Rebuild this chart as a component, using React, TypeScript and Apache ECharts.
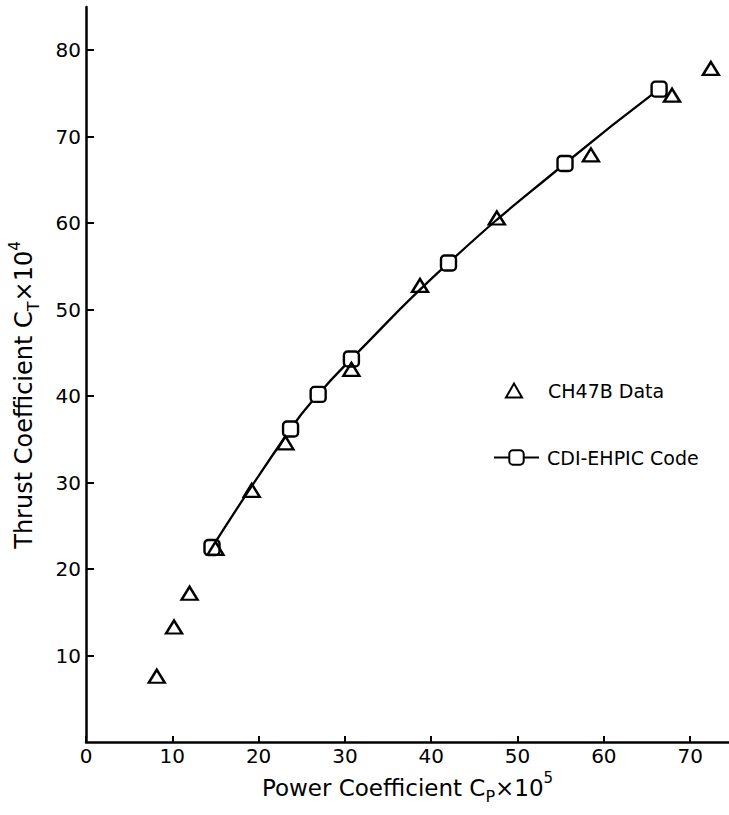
import React, { useEffect, useRef } from "react";
import * as echarts from "echarts";

// CH47B measured data (Cp x 10^5, Ct x 10^4)
const ch47bCp = [8.2, 10.2, 12.0, 15.0, 19.2, 23.1, 30.75, 38.7, 47.6, 58.5, 67.9, 72.4];
const ch47bCt = [7.6, 13.3, 17.2, 22.4, 29.1, 34.6, 43.1, 52.8, 60.6, 67.9, 74.8, 77.9];
// CDI-EHPIC code prediction
const codeCp = [14.6, 23.7, 26.9, 30.75, 42.0, 55.5, 66.4];
const codeCt = [22.5, 36.2, 40.2, 44.3, 55.4, 66.9, 75.5];
// tick labels
const xTicks = [0, 10, 20, 30, 40, 50, 60, 70];
const yTicks = [10, 20, 30, 40, 50, 60, 70, 80];

const FONT = "DejaVu Sans";

export default function App() {
  const ref = useRef<HTMLDivElement>(null);

  useEffect(() => {
    if (!ref.current) return;
    const chart = echarts.init(ref.current, null, { renderer: "svg" });
    const ch47b = ch47bCp.map((x, i) => [x, ch47bCt[i]]);
    const code = codeCp.map((x, i) => [x, codeCt[i]]);

    const axisCommon = {
      type: "value" as const,
      axisLine: { show: true, onZero: false, lineStyle: { color: "#000", width: 2.5 } },
      splitLine: { show: false },
    };

    const legendText = { color: "#000", fontSize: 19, fontFamily: FONT };

    chart.setOption({
      animation: false,
      backgroundColor: "#fff",
      grid: { left: 86, top: 7, right: 0, bottom: 73 },
      xAxis: {
        ...axisCommon,
        min: 0,
        max: 74.5,
        axisTick: { show: true, inside: true, length: 6, lineStyle: { color: "#000", width: 2 }, customValues: xTicks },
        axisLabel: { color: "#000", fontSize: 20, fontFamily: FONT, margin: 4, customValues: xTicks },
        name: "Power Coefficient {b|C}{sub|P}{b|×10}{sup|5}",
        nameLocation: "middle",
        nameGap: 28,
        nameTextStyle: {
          color: "#000",
          fontSize: 23,
          fontFamily: FONT,
          lineHeight: 34,
          rich: {
            b: { fontSize: 23, fontFamily: FONT, color: "#000", lineHeight: 34 },
            sub: { fontSize: 16, fontFamily: FONT, color: "#000", lineHeight: 16, verticalAlign: "bottom" },
            sup: { fontSize: 15, fontFamily: FONT, color: "#000", lineHeight: 15, verticalAlign: "top" },
          },
        },
      },
      yAxis: {
        ...axisCommon,
        min: 0,
        max: 85,
        axisTick: { show: true, inside: true, length: 8, lineStyle: { color: "#000", width: 2 }, customValues: yTicks },
        axisLabel: { color: "#000", fontSize: 20, fontFamily: FONT, margin: 5, customValues: yTicks },
      },
      legend: [
        {
          orient: "vertical",
          left: 500,
          top: 376,
          itemWidth: 16,
          itemHeight: 14,
          textStyle: { ...legendText, padding: [0, 0, 0, 21] },
          data: ["CH47B Data"],
        },
        {
          orient: "vertical",
          left: 488,
          top: 443,
          itemWidth: 45,
          itemHeight: 18,
          textStyle: { ...legendText, padding: [0, 0, 0, 3] },
          data: ["CDI-EHPIC Code"],
        },
      ],
      graphic: [
        {
          type: "text",
          x: 24,
          y: 395,
          rotation: Math.PI / 2,
          style: {
            text: "Thrust Coefficient {b|C}{sub|T}{b|×10}{sup|4}",
            fontSize: 24,
            fontFamily: FONT,
            fill: "#000",
            align: "center",
            verticalAlign: "middle",
            lineHeight: 34,
            rich: {
              b: { fontSize: 24, fontFamily: FONT, fill: "#000", lineHeight: 34 },
              sub: { fontSize: 16, fontFamily: FONT, fill: "#000", lineHeight: 16, verticalAlign: "bottom" },
              sup: { fontSize: 15, fontFamily: FONT, fill: "#000", lineHeight: 15, verticalAlign: "top" },
            },
          },
        },
      ],
      series: [
        {
          name: "CDI-EHPIC Code",
          type: "line",
          data: code,
          smooth: 0.5,
          symbol: "roundRect",
          symbolSize: 15,
          showAllSymbol: true,
          lineStyle: { color: "#000", width: 2.3 },
          itemStyle: { color: "#fff", borderColor: "#000", borderWidth: 2.4, opacity: 1 },
          z: 2,
        },
        {
          name: "CH47B Data",
          type: "scatter",
          data: ch47b,
          symbol: "triangle",
          symbolSize: [16, 13],
          itemStyle: { color: "rgba(255,255,255,0)", borderColor: "#000", borderWidth: 2.4, opacity: 1 },
          z: 3,
        },
      ],
    });
    return () => chart.dispose();
  }, []);

  return (
    <div
      ref={ref}
      style={{ position: "fixed", left: 0, top: 0, width: 729, height: 815, background: "#fff" }}
    />
  );
}
